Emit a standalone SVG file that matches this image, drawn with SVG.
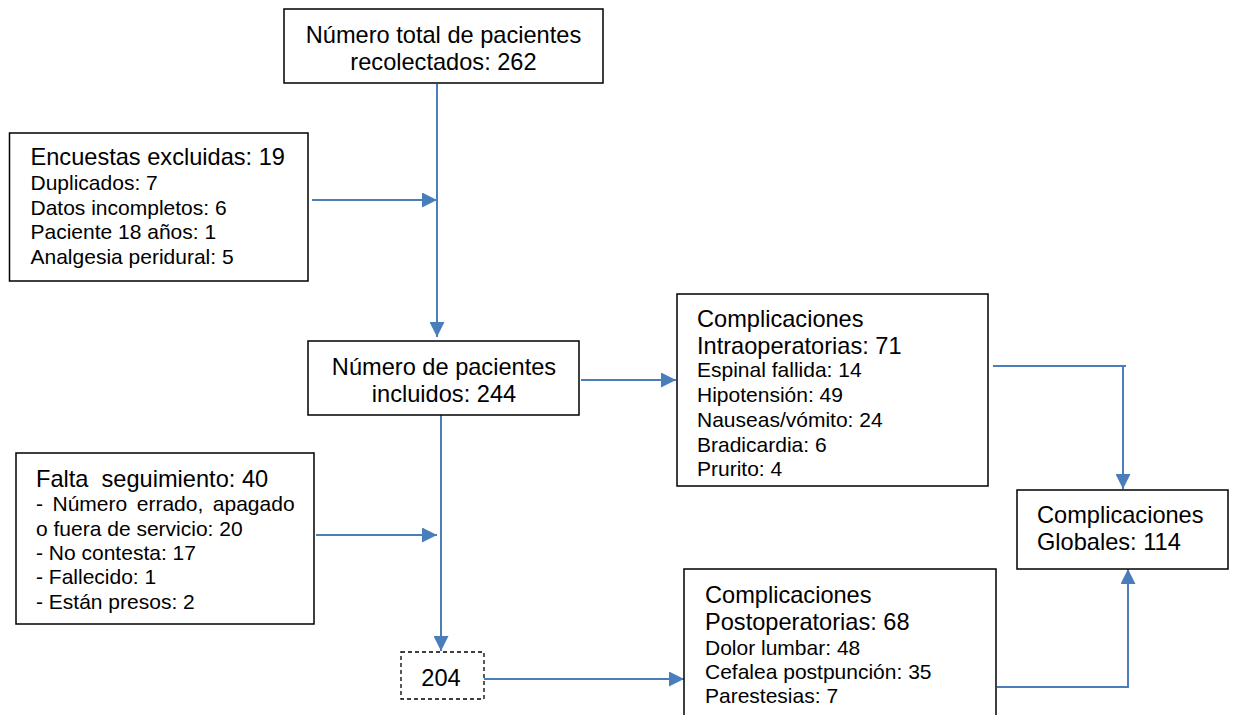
<svg xmlns="http://www.w3.org/2000/svg" width="1233" height="715" viewBox="0 0 1233 715">
<defs>
<style>
.box{fill:#ffffff;stroke:#000000;stroke-width:1.5}
.dash{fill:#ffffff;stroke:#000000;stroke-width:1.3;stroke-dasharray:4 3}
.big{font-family:"Liberation Sans",Arial,sans-serif;font-size:23.6px;fill:#000000}
.sm{font-family:"Liberation Sans",Arial,sans-serif;font-size:21px;fill:#000000}
.mid{text-anchor:middle}
.con{fill:none;stroke:#4A7EBB;stroke-width:2}
</style>
<marker id="arr" markerUnits="userSpaceOnUse" markerWidth="15" markerHeight="15" refX="15" refY="7.5" orient="auto">
<path d="M0,0 L15,7.5 L0,15 z" fill="#4A7EBB"/>
</marker>
</defs>
<rect width="1233" height="715" fill="#ffffff"/>
<g id="connectors">
<path class="con" d="M437,84 V337" marker-end="url(#arr)"/>
<path class="con" d="M312,200 H437" marker-end="url(#arr)"/>
<path class="con" d="M581,380 H676" marker-end="url(#arr)"/>
<path class="con" d="M441,415 V651" marker-end="url(#arr)"/>
<path class="con" d="M316,535 H437" marker-end="url(#arr)"/>
<path class="con" d="M484,679 H684" marker-end="url(#arr)"/>
<path class="con" d="M993,366 H1126"/>
<path class="con" d="M1123,366 V489" marker-end="url(#arr)"/>
<path class="con" d="M997,687 H1128 V569" marker-end="url(#arr)"/>
</g>
<g id="n1">
<rect class="box" x="284" y="9" width="319" height="74"/>
<text class="big mid" x="443.5" y="43">Número total de pacientes</text>
<text class="big mid" x="443.5" y="70">recolectados: 262</text>
</g>
<g id="n2">
<rect class="box" x="9.5" y="133" width="298.5" height="148"/>
<text class="big" x="30.5" y="165">Encuestas excluidas: 19</text>
<text class="sm" x="30.5" y="190">Duplicados: 7</text>
<text class="sm" x="30.5" y="214.5">Datos incompletos: 6</text>
<text class="sm" x="30.5" y="239">Paciente 18 años: 1</text>
<text class="sm" x="30.5" y="263.5">Analgesia peridural: 5</text>
</g>
<g id="n3">
<rect class="box" x="308" y="341" width="271" height="74"/>
<text class="big mid" x="444" y="375">Número de pacientes</text>
<text class="big mid" x="444" y="402">incluidos: 244</text>
</g>
<g id="n4">
<rect class="box" x="677" y="294" width="311" height="192"/>
<text class="big" x="697" y="327">Complicaciones</text>
<text class="big" x="697" y="354">Intraoperatorias: 71</text>
<text class="sm" x="697" y="377">Espinal fallida: 14</text>
<text class="sm" x="697" y="402">Hipotensión: 49</text>
<text class="sm" x="697" y="427">Nauseas/vómito: 24</text>
<text class="sm" x="697" y="452">Bradicardia: 6</text>
<text class="sm" x="697" y="476">Prurito: 4</text>
</g>
<g id="n5">
<rect class="box" x="16" y="453" width="298" height="171"/>
<text class="big" x="36" y="487" xml:space="preserve">Falta  seguimiento: 40</text>
<text class="sm" x="36" y="511" word-spacing="3.7">- Número errado, apagado</text>
<text class="sm" x="36" y="536">o fuera de servicio: 20</text>
<text class="sm" x="36" y="560">- No contesta: 17</text>
<text class="sm" x="36" y="584">- Fallecido: 1</text>
<text class="sm" x="36" y="609">- Están presos: 2</text>
</g>
<g id="n6">
<rect class="dash" x="401" y="652" width="83" height="47"/>
<text class="big mid" x="441" y="686">204</text>
</g>
<g id="n7">
<rect class="box" x="684" y="569" width="312" height="160"/>
<text class="big" x="705" y="602.5">Complicaciones</text>
<text class="big" x="705" y="630">Postoperatorias: 68</text>
<text class="sm" x="705" y="655">Dolor lumbar: 48</text>
<text class="sm" x="705" y="679">Cefalea postpunción: 35</text>
<text class="sm" x="705" y="702.5">Parestesias: 7</text>
</g>
<g id="n8">
<rect class="box" x="1017" y="490" width="211" height="79"/>
<text class="big" x="1037" y="523">Complicaciones</text>
<text class="big" x="1037" y="550">Globales: 114</text>
</g>
</svg>
